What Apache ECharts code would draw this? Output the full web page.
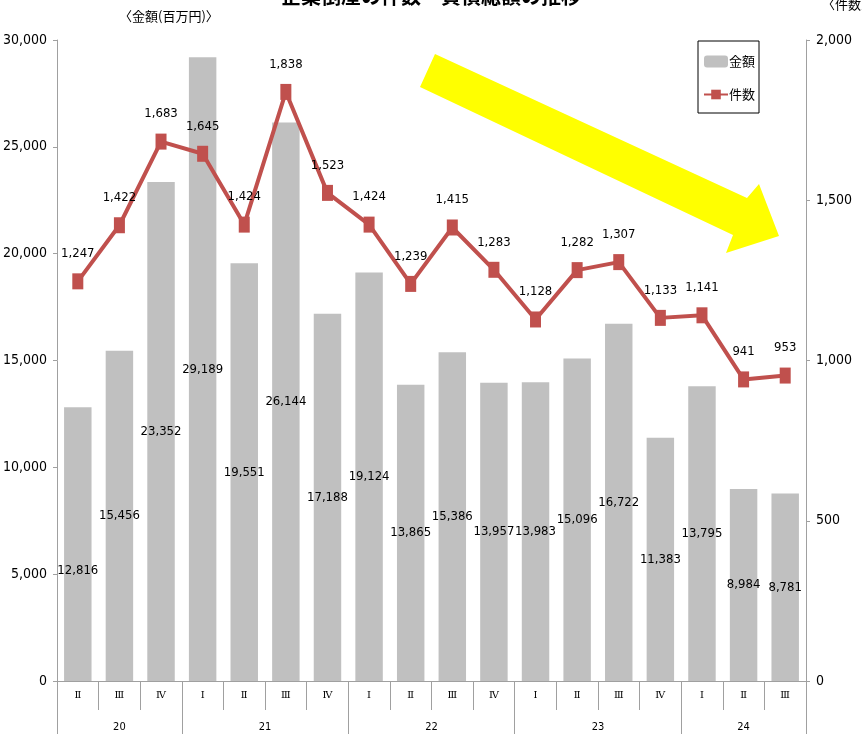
<!DOCTYPE html>
<html>
<head>
<meta charset="utf-8">
<script src="https://cdn.jsdelivr.net/npm/echarts@6/dist/echarts.min.js"></script>
<style>
html,body{margin:0;padding:0;background:#fff;}
#chart{width:862px;height:734px;}
</style>
</head>
<body>
<div id="chart"></div>
<script>
// ---- data ----
var quarters = ['Ⅱ','Ⅲ','Ⅳ','Ⅰ','Ⅱ','Ⅲ','Ⅳ','Ⅰ','Ⅱ','Ⅲ','Ⅳ','Ⅰ','Ⅱ','Ⅲ','Ⅳ','Ⅰ','Ⅱ','Ⅲ'];
var years = ['20','21','22','23','24'];
var yearCounts = [3,4,4,4,3];
var amounts = [12816,15456,23352,29189,19551,26144,17188,19124,13865,15386,13957,13983,15096,16722,11383,13795,8984,8781];
var counts = [1247,1422,1683,1645,1424,1838,1523,1424,1239,1415,1283,1128,1282,1307,1133,1141,941,953];
var leftTicks = {min:0, max:30000, interval:5000};
var rightTicks = {min:0, max:2000, interval:500};

// ---- build ----
var NARROW = '"DejaVu Sans Condensed","Liberation Sans Narrow","Roboto Condensed","Liberation Sans",sans-serif';
var CJK = '"Noto Sans CJK JP",sans-serif';
function fmt(v){ return Number(v).toLocaleString('en-US'); }

var boundaries = [];
var yearLabels = [];
for (var i=0;i<quarters.length;i++) yearLabels.push('');
var s = 0;
for (var g=0; g<years.length; g++){
  boundaries.push(s);
  var c = s + (yearCounts[g]-1)/2;
  if (c === Math.floor(c)) yearLabels[c] = years[g];
  else yearLabels[Math.floor(c)] = '{sh|' + years[g] + '}';
  s += yearCounts[g];
}

var barData = amounts.map(function(v,i){
  return i===0 ? {value:v, label:{offset:[0,27]}} : v;
});

var chart = echarts.init(document.getElementById('chart'));
var axisGray = '#a0a0a0';
chart.setOption({
  animation:false,
  title:{
    text:'企業倒産の件数・負債総額の推移',
    left:'center', top:-19,
    textStyle:{fontFamily:CJK, fontSize:20, fontWeight:'bold', color:'#000'}
  },
  legend:{
    orient:'vertical', left:698, top:41,
    padding:[14,4,12,5], itemGap:20,
    itemWidth:24, itemHeight:12,
    borderColor:'#000', borderWidth:1, backgroundColor:'#fff',
    textStyle:{fontFamily:CJK, fontSize:13, color:'#000', padding:[0,0,0,-4]},
    data:['金額','件数']
  },
  grid:{left:57, right:56, top:40, bottom:53, outerBoundsMode:'none', containLabel:false},
  xAxis:[{
    type:'category', data:quarters, position:'bottom',
    axisLine:{show:true, lineStyle:{color:axisGray}},
    axisTick:{show:true, alignWithLabel:false, interval:0, length:29, lineStyle:{color:axisGray, width:1}},
    axisLabel:{interval:0, margin:9, fontFamily:'"DejaVu Serif",serif', fontSize:10, color:'#000'}
  },{
    type:'category', data:yearLabels, position:'bottom',
    axisLine:{show:false},
    axisTick:{show:true, alignWithLabel:false, length:54, lineStyle:{color:axisGray, width:1},
      interval:function(idx){ return boundaries.indexOf(idx) >= 0; }},
    axisLabel:{interval:0, margin:41, fontFamily:NARROW, fontSize:11, color:'#000',
      rich:{sh:{padding:[0,0,0,41.6], fontFamily:NARROW, fontSize:11, color:'#000'}}}
  }],
  yAxis:[{
    type:'value', min:leftTicks.min, max:leftTicks.max, interval:leftTicks.interval,
    name:'〈金額(百万円)〉', nameLocation:'end', nameGap:24,
    nameTextStyle:{fontFamily:CJK, fontSize:13, color:'#000', align:'left', verticalAlign:'middle', padding:[0,0,0,62]},
    splitLine:{show:false},
    axisLine:{show:true, lineStyle:{color:axisGray}},
    axisTick:{show:true, length:4, lineStyle:{color:axisGray}},
    axisLabel:{margin:10, fontFamily:NARROW, fontSize:14, color:'#000', formatter:fmt}
  },{
    type:'value', min:rightTicks.min, max:rightTicks.max, interval:rightTicks.interval,
    name:'〈件数〉', nameLocation:'end', nameGap:36,
    nameTextStyle:{fontFamily:CJK, fontSize:13, color:'#000', align:'left', verticalAlign:'middle', padding:[0,0,0,16]},
    splitLine:{show:false},
    axisLine:{show:true, lineStyle:{color:axisGray}},
    axisTick:{show:true, length:4, lineStyle:{color:axisGray}},
    axisLabel:{margin:10, fontFamily:NARROW, fontSize:14, color:'#000', formatter:fmt}
  }],
  series:[{
    name:'金額', type:'bar', xAxisIndex:0, yAxisIndex:0,
    data:barData, barWidth:'66%',
    itemStyle:{color:'#c0c0c0'},
    label:{show:true, position:'inside', fontFamily:NARROW, fontSize:13, color:'#000', formatter:function(p){return fmt(p.value);}},
    z:2
  },{
    name:'件数', type:'line', xAxisIndex:0, yAxisIndex:1,
    data:counts,
    symbol:'rect', symbolSize:[11,16],
    lineStyle:{color:'#c0504d', width:4},
    itemStyle:{color:'#c0504d'},
    label:{show:true, position:'top', distance:13, fontFamily:NARROW, fontSize:13, color:'#000', formatter:function(p){return fmt(p.value);}},
    z:4
  }],
  graphic:[{
    type:'polygon', z:10,
    shape:{points:[[435,54],[747,198],[759,184],[779,236],[726,253],[733,235],[420,87]]},
    style:{fill:'#ffff00', stroke:null}
  }]
});
</script>
</body>
</html>
